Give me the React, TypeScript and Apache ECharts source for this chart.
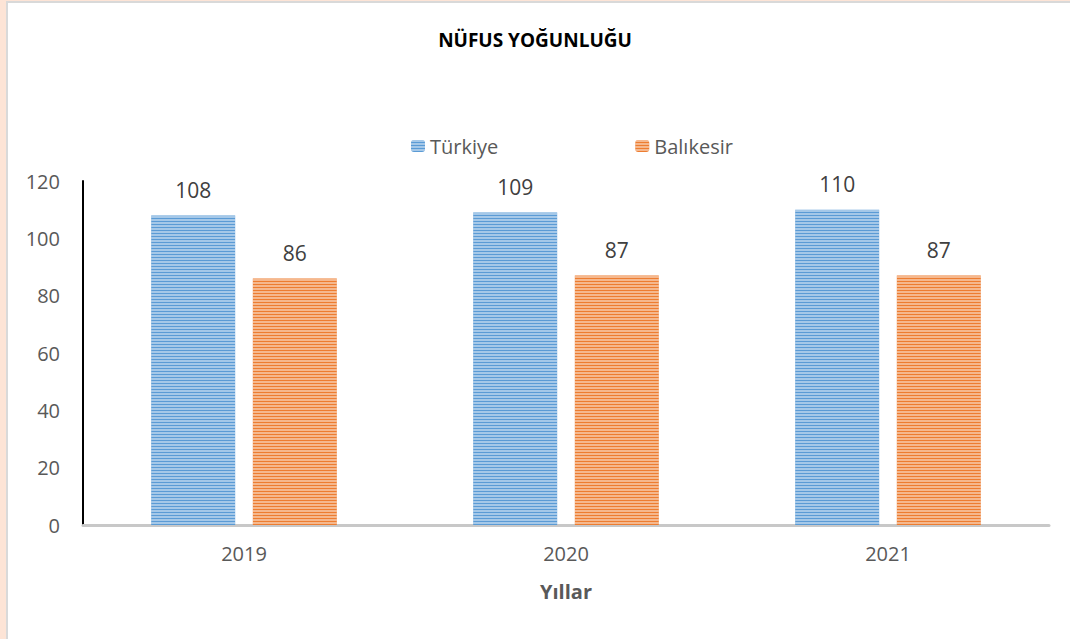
import React, { useEffect, useRef } from "react";
import * as echarts from "echarts";

const categories = ["2019", "2020", "2021"];
const turkiye = [108, 109, 110];
const balikesir = [86, 87, 87];
const seriesNames = ["Türkiye", "Balıkesir"];
const titleText = "NÜFUS YOĞUNLUĞU";
const xAxisName = "Yıllar";

const FONT = "'Open Sans', 'Noto Sans', sans-serif";

export default function App() {
  const ref = useRef<HTMLDivElement>(null);
  useEffect(() => {
    if (!ref.current) return;
    const chart = echarts.init(ref.current, undefined, { renderer: "svg" });
    const decal = (c: string) => ({
      symbol: "rect",
      symbolSize: 1,
      dashArrayX: [1, 0],
      dashArrayY: [2, 1],
      rotation: 0,
      color: c,
    });
    const label = {
      show: true,
      position: "top",
      distance: 15,
      fontFamily: FONT,
      fontSize: 21,
      color: "#404040",
    };
    chart.setOption({
      animation: false,
      backgroundColor: "#FDE4D6",
      graphic: [
        {
          type: "rect",
          z: -10,
          silent: true,
          shape: { x: 7, y: 2, width: 1070, height: 650 },
          style: { fill: "#ffffff", stroke: "#D9D9D9", lineWidth: 2 },
        },
      ],
      title: {
        text: titleText,
        left: "center",
        top: 25,
        textStyle: {
          fontFamily: FONT,
          fontSize: 19,
          fontWeight: "bold",
          color: "#000000",
        },
      },
      legend: {
        left: 406,
        top: 131,
        itemWidth: 14,
        itemHeight: 12,
        itemGap: 137,
        textStyle: { fontFamily: FONT, fontSize: 20, color: "#595959" },
        data: seriesNames,
      },
      grid: { left: 83, right: 21, top: 181, bottom: 114, containLabel: false },
      xAxis: {
        type: "category",
        data: categories,
        name: xAxisName,
        nameLocation: "middle",
        nameGap: 56,
        nameTextStyle: {
          fontFamily: FONT,
          fontSize: 20,
          fontWeight: "bold",
          color: "#595959",
        },
        axisLine: { lineStyle: { color: "#C8C8C8", width: 3 } },
        axisTick: { show: false },
        axisLabel: { fontFamily: FONT, fontSize: 20, color: "#595959", margin: 18 },
      },
      yAxis: {
        type: "value",
        min: 0,
        max: 120,
        interval: 20,
        axisLine: { show: true, lineStyle: { color: "#000000", width: 2 } },
        axisTick: { show: false },
        splitLine: { show: false },
        axisLabel: { fontFamily: FONT, fontSize: 20, color: "#595959", margin: 23 },
      },
      series: [
        {
          name: seriesNames[0],
          type: "bar",
          data: turkiye,
          barWidth: 84,
          barGap: "21%",
          itemStyle: { color: "#5B9BD5", decal: decal("rgba(255,255,255,0.45)") },
          label,
        },
        {
          name: seriesNames[1],
          type: "bar",
          data: balikesir,
          barWidth: 84,
          barGap: "21%",
          itemStyle: { color: "#ED7D31", decal: decal("rgba(255,255,255,0.45)") },
          label,
        },
      ],
    });
    return () => chart.dispose();
  }, []);
  return (
    <div
      ref={ref}
      style={{ position: "fixed", left: 0, top: 0, width: 1070, height: 639 }}
    />
  );
}
